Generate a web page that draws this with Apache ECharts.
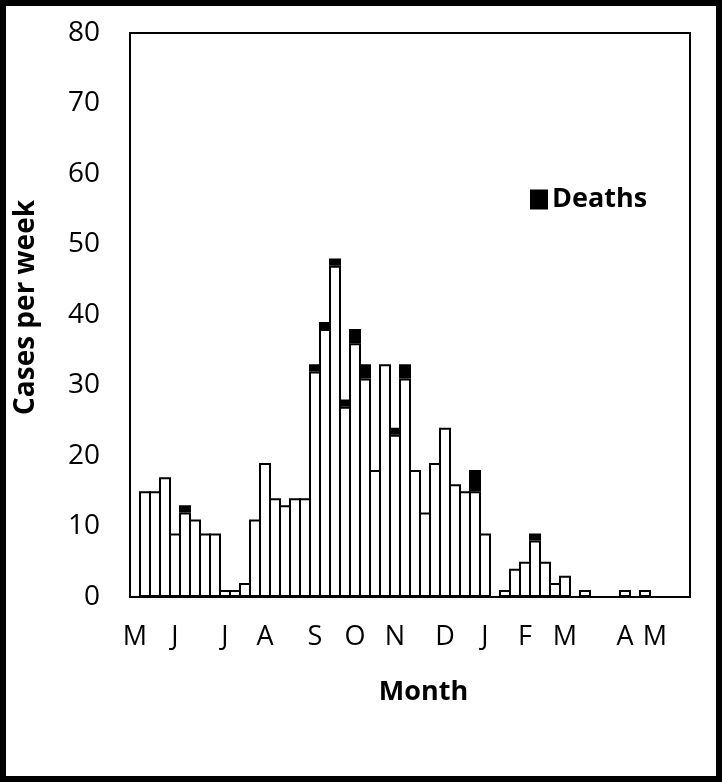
<!DOCTYPE html>
<html>
<head>
<meta charset="utf-8">
<script src="https://cdn.jsdelivr.net/npm/echarts@6/dist/echarts.min.js"></script>
<style>
html,body{margin:0;padding:0;background:#fff;}
#chart{width:722px;height:782px;}
</style>
</head>
<body>
<div id="chart"></div>
<script>
// Weekly categories (week index from start of May)
var weeks = [];
for (var w = 0; w < 56; w++) weeks.push(String(w));

// Month tick labels and the week index where each is shown
var monthLabels = ['M','J','J','A','S','O','N','D','J','F','M','A','M'];
var monthLabelWeeks = [0,4,9,13,18,22,26,31,35,39,43,49,52];

// Cases per week (survivors, white part of bar)
var cases = [0,15,15,17,9,12,11,9,9,1,1,2,11,19,14,13,14,14,32,38,47,27,36,31,18,33,23,31,18,12,19,24,16,15,15,9,0,1,4,5,8,5,2,3,0,1,0,0,0,1,0,1,0,0,0,0];
// Deaths per week (black part of bar)
var deaths = [0,0,0,0,0,1,0,0,0,0,0,0,0,0,0,0,0,0,1,1,1,1,2,2,0,0,1,2,0,0,0,0,0,0,3,0,0,0,0,0,1,0,0,0,0,0,0,0,0,0,0,0,0,0,0,0];

// Y axis ticks
var yMin = 0, yMax = 80, yStep = 10;

var labelMap = {};
monthLabelWeeks.forEach(function(wk, i){ labelMap[wk] = monthLabels[i]; });

var FONT = 'Open Sans';
var BORDER = 2;
var chart = echarts.init(document.getElementById('chart'), null, {renderer:'canvas'});
chart.setOption({
  backgroundColor: '#fff',
  animation: false,
  graphic: [{
    type: 'rect',
    shape: {x: 3, y: 3, width: 716, height: 776},
    style: {fill: 'none', stroke: '#000', lineWidth: 6},
    silent: true
  }],
  legend: {
    data: ['Deaths'],
    left: 525, top: 181,
    icon: 'rect',
    itemWidth: 16, itemHeight: 18, itemGap: 8,
    textStyle: {fontFamily: FONT, fontWeight: 'bold', fontSize: 27, color: '#000'}
  },
  grid: {
    left: 130, right: 32, top: 33, bottom: 185,
    show: true, borderColor: '#000', borderWidth: 2, backgroundColor: '#fff'
  },
  xAxis: {
    type: 'category',
    data: weeks,
    boundaryGap: true,
    axisTick: {show: false},
    axisLine: {lineStyle: {color: '#000', width: 2}},
    axisLabel: {
      interval: 0,
      margin: 27,
      fontFamily: FONT, fontSize: 27, color: '#000',
      formatter: function(v, idx){ return labelMap[idx] || ''; }
    },
    name: 'Month',
    nameLocation: 'middle',
    nameGap: 82,
    nameTextStyle: {fontFamily: FONT, fontWeight: 'bold', fontSize: 27, color: '#000', padding: [0,0,0,27]}
  },
  yAxis: {
    type: 'value',
    min: yMin, max: yMax, interval: yStep,
    splitLine: {show: false},
    axisTick: {show: false},
    axisLine: {show: true, lineStyle: {color: '#000', width: 2}},
    axisLabel: {margin: 30, fontFamily: FONT, fontSize: 28, color: '#000'},
    name: 'Cases per week',
    nameLocation: 'middle',
    nameGap: 90,
    nameRotate: 90,
    nameTextStyle: {fontFamily: FONT, fontWeight: 'bold', fontSize: 28, color: '#000', padding: [0,0,0,15]}
  },
  series: [{
    name: 'Cases',
    type: 'bar',
    stack: 'total',
    barWidth: 10 + BORDER,
    data: cases,
    itemStyle: {color: '#fff', borderColor: '#000', borderWidth: BORDER}
  }, {
    name: 'Deaths',
    type: 'bar',
    stack: 'total',
    barWidth: 10 + BORDER,
    data: deaths.map(function(d){ return d > 0 ? d : '-'; }),
    itemStyle: {color: '#000', borderColor: '#000', borderWidth: BORDER}
  }]
});
</script>
</body>
</html>
